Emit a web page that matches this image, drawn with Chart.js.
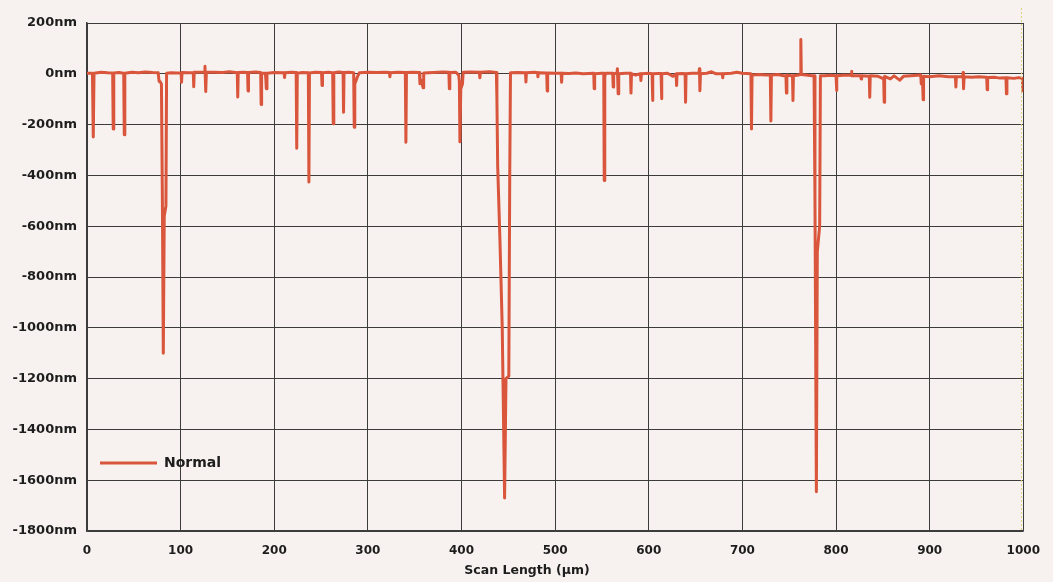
<!DOCTYPE html>
<html>
<head>
<meta charset="utf-8">
<script src="https://cdn.jsdelivr.net/npm/chart.js@4.4.1/dist/chart.umd.min.js"></script>
<style>
  html, body { margin: 0; padding: 0; background: #f7f2ef; }
  #wrap { width: 1053px; height: 582px; }
</style>
</head>
<body>
<div id="wrap"><canvas id="c" width="1053" height="582"></canvas></div>
<script>
// ---- Data (scan position in µm, height in nm) ----
const seriesLabel = "Normal";
const xTitle = "Scan Length (µm)";
const yTickValues = [200, 0, -200, -400, -600, -800, -1000, -1200, -1400, -1600, -1800];
const xTickValues = [0, 100, 200, 300, 400, 500, 600, 700, 800, 900, 1000];

const scanX = [
  0, 5.8, 6.7, 7.5, 15, 22, 27.4, 28, 28.6, 34,
  39.2, 39.8, 40.4, 48, 55, 62, 70, 76, 77, 78,
  79.5, 80.5, 81.5, 82.5, 84.3, 85, 90, 96, 100.5, 101,
  101.5, 108, 113.5, 114, 114.5, 120, 125.5, 126, 126.8, 127.5,
  135, 145, 152, 160.5, 161, 161.5, 167, 171.5, 172, 172.5,
  180, 185.5, 186, 186.5, 190.5, 191, 191.5, 192.2, 200, 210.5,
  211, 211.5, 218, 223.4, 224, 224.6, 230, 236.4, 237, 237.6,
  244, 250.5, 251, 251.5, 258, 262.4, 263, 263.6, 269, 273.5,
  274, 274.5, 280, 284.8, 285.4, 286, 287.5, 289, 291, 300,
  310, 318, 323, 323.5, 324, 332, 340, 340.6, 341.2, 348,
  355, 355.6, 357, 359, 359.6, 370, 380, 386.5, 387, 387.5,
  394, 397, 397.7, 398.3, 399.2, 401, 401.8, 410, 419, 419.6,
  420.2, 430, 437.2, 437.8, 438.6, 441, 443.5, 446, 447.5, 450.5,
  451.5, 452.3, 460, 468.3, 468.8, 469.3, 478, 481.2, 481.6, 482,
  491, 491.5, 492, 500, 506.4, 506.9, 507.4, 515, 522, 530,
  541.2, 541.7, 542.2, 550, 551.9, 552.4, 553, 554, 561.5, 562,
  562.5, 566, 566.5, 567.3, 567.9, 575, 580.5, 581, 581.5, 586,
  591, 591.6, 592.2, 600, 603.5, 604, 604.5, 610, 613.1, 613.6,
  614.1, 620, 626, 629.2, 629.7, 630.2, 636, 638.8, 639.3, 639.8,
  646, 653.6, 654.1, 654.6, 655.2, 662, 667, 672, 678.5, 679,
  679.5, 688, 694, 700, 709.1, 709.7, 710.3, 718, 725, 729.8,
  730.4, 731, 738, 744, 746.5, 747, 747.5, 752, 753.5, 754,
  754.5, 760, 761.9, 762.4, 762.9, 768, 774, 776.5, 777.5, 779,
  780, 782.5, 783.3, 788, 794, 800, 800.5, 801, 808, 816,
  816.5, 817, 826.3, 826.8, 827.3, 835.5, 836, 836.5, 845, 850.9,
  851.4, 851.9, 858, 862, 868, 872, 880, 890.5, 891, 892.5,
  893, 893.5, 900, 910, 920, 927.5, 928, 928.5, 935.2, 935.7,
  936.2, 936.8, 945, 952, 960.9, 961.4, 961.9, 970, 975, 981.5,
  982, 982.5, 990, 995, 999, 999.5, 1000
];

const heightNm = [
  2, 2, -249, 2, 6, 4, 3, -217, 3, 5,
  2, -240, 2, 6, 4, 7, 5, 4, -30, -30,
  -40, -500, -1100, -560, -520, 2, 4, 3, 3, -33,
  5, 4, 4, -51, 6, 6, 6, 30, -70, 6,
  6, 5, 8, 4, -91, 5, 6, 5, -68, 5,
  7, 5, -121, 3, 2, -20, -59, 2, 5, 4,
  -15, 4, 6, 5, -293, 2, 5, 4, -426, 3,
  6, 5, -46, 4, 6, 4, -197, 4, 7, 5,
  -151, 5, 6, 4, -210, -40, -25, -10, 4, 6,
  5, 6, 5, -12, 4, 6, 5, -269, 5, 6,
  5, -39, -25, -55, 3, 5, 7, 6, -59, 5,
  6, -5, -30, -268, -60, -40, 6, 7, 6, -16,
  6, 8, 5, -100, -360, -650, -1000, -1670, -1200, -1190,
  -400, 4, 5, 4, -32, 4, 6, 4, -12, 4,
  3, -68, 3, 2, 2, -33, 2, 1, 3, 0,
  2, -59, 0, 2, 2, -420, -10, 2, 2, -52,
  0, 2, 20, -79, 0, 2, 2, -76, 0, -5,
  0, -26, 0, 2, 0, -105, 0, 1, 1, -98,
  0, 2, -10, 0, -46, 0, 1, 0, -112, 0,
  2, 2, 20, -67, 0, 2, 8, 0, 0, -16,
  0, 2, 6, 2, 0, -217, -5, -3, -5, -5,
  -186, -5, -3, -8, -8, -76, -5, -8, -8, -105,
  -8, -5, -3, 135, -3, -5, -8, -8, -500, -1645,
  -700, -600, -8, -8, -6, -8, -66, -8, -6, -6,
  10, -8, -8, -20, -8, -10, -92, -8, -10, -20,
  -112, -10, -20, -8, -25, -10, -8, -5, -40, -40,
  -102, -10, -12, -8, -12, -12, -52, -12, -12, 5,
  -59, -12, -14, -12, -14, -63, -15, -14, -17, -16,
  -79, -16, -18, -15, -18, -67, -20
];

const lineColor = "#d9553b";
const inkColor = "#1d1d1d";
const gridColor = "#3c3c3c";
const paperColor = "#f7f2ef";

const points = scanX.map((x, i) => ({ x: x, y: heightNm[i] }));

const paperPlugin = {
  id: "paper",
  beforeDraw(chart) {
    const ctx = chart.ctx;
    ctx.save();
    ctx.fillStyle = paperColor;
    ctx.fillRect(0, 0, chart.width, chart.height);
    ctx.restore();
  }
};

const overlayPlugin = {
  id: "overlay",
  afterDraw(chart) {
    const ctx = chart.ctx;
    const area = chart.chartArea;
    ctx.save();
    // legend (inside plot, lower-left)
    const ly = 463;
    ctx.strokeStyle = lineColor;
    ctx.lineWidth = 3;
    ctx.beginPath();
    ctx.moveTo(area.left + 13, ly);
    ctx.lineTo(area.left + 70, ly);
    ctx.stroke();
    ctx.fillStyle = inkColor;
    ctx.font = "bold 14px 'DejaVu Sans'";
    ctx.textAlign = "left";
    ctx.textBaseline = "middle";
    ctx.fillText(chart.data.datasets[0].label, area.left + 77, ly);
    // x axis title
    ctx.font = "bold 12.5px 'DejaVu Sans'";
    ctx.textAlign = "center";
    ctx.fillText(xTitle, 527, 571);
    // faint yellow dotted marker at right edge
    const xr = chart.scales.x.getPixelForValue(998);
    ctx.strokeStyle = "#d8d27a";
    ctx.lineWidth = 1;
    ctx.setLineDash([2, 2]);
    ctx.beginPath();
    ctx.moveTo(xr, 8);
    ctx.lineTo(xr, area.bottom);
    ctx.stroke();
    ctx.restore();
  }
};

new Chart(document.getElementById("c"), {
  type: "scatter",
  data: {
    datasets: [{
      label: seriesLabel,
      data: points,
      showLine: true,
      borderColor: lineColor,
      backgroundColor: lineColor,
      borderWidth: 3,
      pointRadius: 0,
      tension: 0,
      borderJoinStyle: "round",
      borderCapStyle: "round"
    }]
  },
  options: {
    responsive: false,
    animation: false,
    layout: { padding: { left: 0, right: 29, top: 23, bottom: 0 } },
    plugins: { legend: { display: false }, tooltip: { enabled: false } },
    scales: {
      x: {
        type: "linear",
        min: 0, max: 1000,
        afterBuildTicks(scale) { scale.ticks = xTickValues.map(v => ({ value: v })); },
        afterFit(scale) { scale.height = 51; },
        grid: { color: gridColor, lineWidth: 1, drawTicks: false },
        border: { color: gridColor, width: 1.5 },
        ticks: {
          color: inkColor,
          font: { family: "'DejaVu Sans'", size: 12, weight: "bold" },
          padding: 13,
          maxRotation: 0,
          callback: v => String(v)
        }
      },
      y: {
        type: "linear",
        min: -1800, max: 200,
        afterBuildTicks(scale) { scale.ticks = yTickValues.map(v => ({ value: v })); },
        afterFit(scale) { scale.width = 87; },
        grid: { color: gridColor, lineWidth: 1, drawTicks: false },
        border: { color: gridColor, width: 1.5 },
        ticks: {
          color: inkColor,
          font: { family: "'DejaVu Sans'", size: 13, weight: "bold" },
          padding: 10,
          callback: v => v + "nm"
        }
      }
    }
  },
  plugins: [paperPlugin, overlayPlugin]
});
</script>
</body>
</html>
